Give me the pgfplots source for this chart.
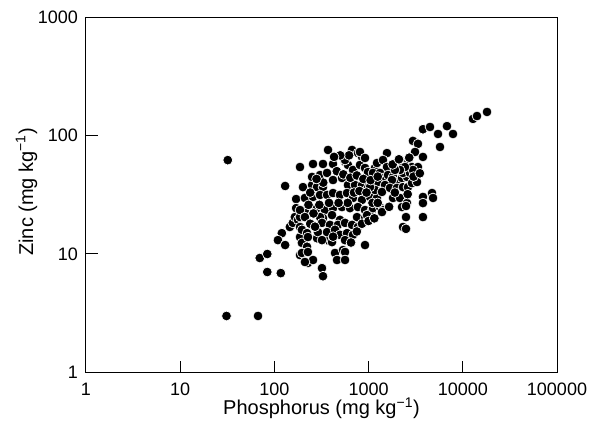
\documentclass[border=0pt]{standalone}
\usepackage{fontspec}
\setmainfont{Liberation Sans}
\usepackage{pgfplots}
\pgfplotsset{compat=1.18}
\pgfplotstableread{
x y
32 62
31 3.0
67 3.0
84 7.05
117 6.9
70 9.25
84 10
120 15.0
109 13.1
130 11.9
187 9.8
130 37.5
187 54.2
371 75.5
146 16.9
157 18.3
165 20.5
178 19.4
170 29.1
170 24.4
201 36.7
251 38.2
257 57.5
328 57.5
419 57.5
211 23.5
187 20.5
187 13.9
196 12.4
227 8.4
257 8.9
320 7.6
328 6.5
283 13.6
362 13.1
667 75.5
771 71.1
851 65.9
562 59.8
604 56.4
683 51.2
810 56.4
916 53.2
986 49.2
1169 53.2
251 44.7
305 46.4
362 48.3
419 42.1
522 43.8
604 38.2
717 38.2
851 38.2
986 36.1
1169 36.7
283 36.7
328 36.7
211 29.7
257 30.3
305 31.5
362 31.5
419 32.7
497 31.5
590 32.7
683 29.7
851 28.6
1035 30.3
1228 29.7
187 23.5
283 24.4
344 23.5
419 24.4
522 24.9
635 24.4
771 24.9
916 23.5
1087 23.5
328 20.1
409 21.3
753 20.5
916 20.1
211 20.5
305 20.5
497 19.4
962 21.3
187 16.9
320 18.3
389 17.6
473 17.6
562 18.3
667 17.6
771 16.9
196 16.0
222 15.0
290 15.3
362 15.3
440 16.0
497 14.5
590 15.0
683 14.5
227 13.9
320 13.1
409 12.6
562 13.1
916 11.9
222 11.5
196 10.2
227 10.4
440 10.2
535 10.8
562 10.4
211 8.56
462 8.9
562 8.9
3776 113
4487 118
5457 103
6792 120
7870 103
5728 80
2958 90
3343 85
3110 72.6
3776 65.9
1567 71.1
810 72.6
916 64.6
562 62.1
2318 59.8
2618 58.6
2888 54.2
3343 54.2
1228 58.6
1422 62.1
1567 54.2
1114 48.3
1321 48.3
1422 43.8
1607 46.4
1816 44.7
2000 40.5
2263 43.8
2557 44.7
2318 48.3
2749 48.3
2958 51.2
2433 54.2
2153 51.2
1905 51.2
1771 42.1
1259 40.5
1493 38.2
1169 34.7
1387 33.4
1687 36.1
2000 36.1
2318 36.7
2618 36.7
2888 39.7
3266 40.5
1816 29.7
2153 29.7
2557 26.9
2263 24.9
1114 24.4
1321 24.9
1422 23.5
1035 36.7
3776 30.3
4713 32.7
4830 29.7
3776 26.9
3776 20.5
2495 25.4
2495 20.5
2318 16.9
2495 16.3
1387 22.6
12830 138
14150 146
18070 158
460 50
540 47
640 44
750 46
880 43
1050 42
1250 45
700 33
800 34
950 33
1100 27
1250 27
600 27
480 27
380 27
300 26
260 22
240 18
270 17
420 14
650 12.5
750 15.5
850 18
1000 19
1150 20
1650 25
1900 33
2600 32
3000 45
3500 48
1800 57
2100 63
620 68
500 68
430 66
2700 65
330 40
280 43
240 33
230 26
}\pdata
\begin{document}
\begin{tikzpicture}
\begin{axis}[
  name=main,
  xmode=log, ymode=log,
  scale only axis, width=471pt, height=355.5pt,
  xmin=1, xmax=100000, ymin=1, ymax=1000,
  xtick={1,10,100,1000,10000,100000},
  xticklabels={1,10,100,1000,10000,100000},
  ytick={1,10,100,1000},
  yticklabels={1,10,100,1000},
  xminorticks=false, yminorticks=false,
  tick align=inside, xtick pos=bottom, ytick pos=left,
  major tick length=12pt,
  axis line style={line width=1pt},
  every tick/.style={black, line width=1pt},
  ticklabel style={font=\fontsize{18}{21}\selectfont},
  xticklabel style={anchor=north, inner sep=0pt, yshift=-10pt},
  yticklabel style={anchor=east, inner sep=0pt, xshift=-8pt},
  label style={font=\fontsize{20}{24}\selectfont},
  xlabel={Phosphorus (mg kg\textsuperscript{−1})},
  ylabel={Zinc (mg kg\textsuperscript{−1})},
  xlabel style={at={(axis description cs:0.5,-0.1195)}, anchor=base},
  ylabel style={at={(axis description cs:-0.1125,0.508)}, anchor=base},
]
\addplot[only marks, mark=*, mark size=4.9pt,
  mark options={fill=black, draw=white, line width=0.7pt}] table[x=x,y=y] {\pdata};
\end{axis}
\pgfresetboundingbox
\path ([xshift=-86pt,yshift=-50.5pt]main.south west) rectangle ([xshift=504pt,yshift=372.5pt]main.south west);
\end{tikzpicture}
\end{document}
